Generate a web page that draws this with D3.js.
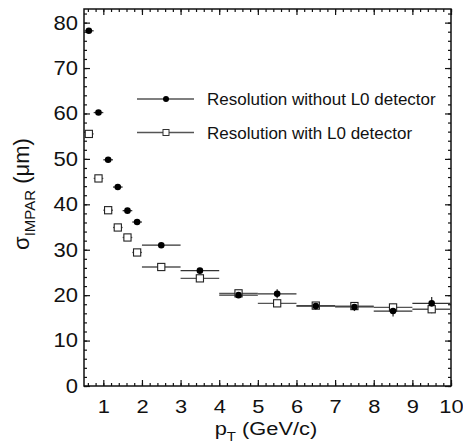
<!DOCTYPE html>
<html>
<head>
<meta charset="utf-8">
<script src="https://cdn.jsdelivr.net/npm/d3@7"></script>
<style>
  body { margin: 0; background: #fff; }
  svg { display: block; font-family: "Liberation Sans", Arial, sans-serif; }
</style>
</head>
<body>
<svg id="chart" width="463" height="445"></svg>
<script>
// bin centres and half widths (GeV/c)
const ptCenters = [0.625, 0.875, 1.125, 1.375, 1.625, 1.875, 2.5, 3.5, 4.5, 5.5, 6.5, 7.5, 8.5, 9.5];
const ptHalfWidth = [0.125, 0.125, 0.125, 0.125, 0.125, 0.125, 0.5, 0.5, 0.5, 0.5, 0.5, 0.5, 0.5, 0.5];

// impact parameter resolution (um)
const sigmaNoL0 = [78.2, 60.2, 49.8, 43.8, 38.6, 36.1, 31.0, 25.4, 20.0, 20.3, 17.6, 17.4, 16.5, 18.2];
const sigmaNoL0Err = [0.4, 0.4, 0.4, 0.4, 0.4, 0.4, 0.4, 0.5, 0.6, 1.0, 0.8, 0.9, 1.2, 1.4];
const sigmaL0 = [55.5, 45.7, 38.7, 34.9, 32.7, 29.4, 26.2, 23.7, 20.4, 18.2, 17.7, 17.6, 17.3, 16.9];
const sigmaL0Err = [0.3, 0.3, 0.3, 0.3, 0.3, 0.3, 0.3, 0.4, 0.5, 0.6, 0.6, 0.6, 0.8, 0.9];

const xTicks = [1, 2, 3, 4, 5, 6, 7, 8, 9, 10];
const yTicks = [0, 10, 20, 30, 40, 50, 60, 70, 80];
const legendLabels = ['Resolution without L0 detector', 'Resolution with L0 detector'];

const plot = { left: 84, right: 451, top: 9, bottom: 386 };
const svg = d3.select('#chart');

const x = d3.scaleLinear().domain([0.5, 10]).range([plot.left, plot.right]);
const y = d3.scaleLinear().domain([0, 83]).range([plot.bottom, plot.top]);

const xMinor = d3.range(0.6, 10.01, 0.2).map(v => +v.toFixed(1));
const yMinor = d3.range(0, 83, 2);

// frame
svg.append('rect')
  .attr('x', plot.left).attr('y', plot.top)
  .attr('width', plot.right - plot.left).attr('height', plot.bottom - plot.top)
  .attr('fill', 'none').attr('stroke', '#111').attr('stroke-width', 1.5);

function styleAxis(g) {
  g.select('.domain').remove();
  g.selectAll('.tick line').attr('stroke', '#111').attr('stroke-width', 1.2);
}

// stretch tick labels a bit horizontally, like the original figure
function stretchLabels(g, sx) {
  g.selectAll('.tick text').each(function() {
    const t = d3.select(this);
    const tx = +t.attr('x') || 0, ty = +t.attr('y') || 0;
    t.attr('x', 0).attr('y', 0)
      .attr('transform', `translate(${tx},${ty}) scale(${sx},1)`);
  });
}

// bottom axis
const gx = svg.append('g').attr('transform', `translate(0,${plot.bottom})`)
  .call(d3.axisBottom(x).tickValues(xTicks).tickSize(-6).tickPadding(14).tickFormat(d3.format('d')));
gx.selectAll('.tick text').attr('font-size', 19).attr('fill', '#111');
stretchLabels(gx, 1.15);
styleAxis(gx);
svg.append('g').attr('transform', `translate(0,${plot.bottom})`)
  .call(d3.axisBottom(x).tickValues(xMinor).tickSize(-3).tickFormat(''))
  .call(styleAxis);

// top axis (mirror)
svg.append('g').attr('transform', `translate(0,${plot.top})`)
  .call(d3.axisTop(x).tickValues(xTicks).tickSize(-6).tickFormat(''))
  .call(styleAxis);
svg.append('g').attr('transform', `translate(0,${plot.top})`)
  .call(d3.axisTop(x).tickValues(xMinor).tickSize(-3).tickFormat(''))
  .call(styleAxis);

// left axis
const gy = svg.append('g').attr('transform', `translate(${plot.left},0)`)
  .call(d3.axisLeft(y).tickValues(yTicks).tickSize(-6).tickPadding(6));
gy.selectAll('.tick text').attr('font-size', 20).attr('fill', '#111');
stretchLabels(gy, 1.1);
styleAxis(gy);
svg.append('g').attr('transform', `translate(${plot.left},0)`)
  .call(d3.axisLeft(y).tickValues(yMinor).tickSize(-3).tickFormat(''))
  .call(styleAxis);

// right axis (mirror)
svg.append('g').attr('transform', `translate(${plot.right},0)`)
  .call(d3.axisRight(y).tickValues(yTicks).tickSize(-6).tickFormat(''))
  .call(styleAxis);
svg.append('g').attr('transform', `translate(${plot.right},0)`)
  .call(d3.axisRight(y).tickValues(yMinor).tickSize(-3).tickFormat(''))
  .call(styleAxis);

// axis titles
const xTitle = svg.append('text')
  .attr('transform', `translate(266,435) scale(1.15,1)`)
  .attr('text-anchor', 'middle').attr('font-size', 19).attr('fill', '#111');
xTitle.append('tspan').text('p');
xTitle.append('tspan').attr('font-size', 13).attr('dy', 6).text('T');
xTitle.append('tspan').attr('dy', -6).text(' (GeV/c)');

const yTitle = svg.append('text')
  .attr('transform', 'translate(29,194) rotate(-90)')
  .attr('text-anchor', 'middle').attr('font-size', 22).attr('fill', '#111');
yTitle.append('tspan').text('σ');
yTitle.append('tspan').attr('font-size', 15).attr('dy', 6).text('IMPAR');
yTitle.append('tspan').attr('dy', -6).text(' (μm)');

// data
const noL0 = ptCenters.map((p, i) => ({ x: p, dx: ptHalfWidth[i], y: sigmaNoL0[i], dy: sigmaNoL0Err[i] }));
const withL0 = ptCenters.map((p, i) => ({ x: p, dx: ptHalfWidth[i], y: sigmaL0[i], dy: sigmaL0Err[i] }));

function errorBars(data, color) {
  const g = svg.append('g').attr('stroke', color).attr('stroke-width', 1.3);
  g.selectAll('.hx').data(data).enter().append('line')
    .attr('x1', d => x(d.x - d.dx)).attr('x2', d => x(d.x + d.dx))
    .attr('y1', d => y(d.y)).attr('y2', d => y(d.y));
  g.selectAll('.vy').data(data).enter().append('line')
    .attr('x1', d => x(d.x)).attr('x2', d => x(d.x))
    .attr('y1', d => y(d.y - d.dy)).attr('y2', d => y(d.y + d.dy));
}

errorBars(withL0, '#555');
errorBars(noL0, '#333');

svg.append('g').selectAll('rect').data(withL0).enter().append('rect')
  .attr('x', d => x(d.x) - 3.6).attr('y', d => y(d.y) - 3.6)
  .attr('width', 7.2).attr('height', 7.2)
  .attr('fill', '#fff').attr('stroke', '#222').attr('stroke-width', 1.1);

svg.append('g').selectAll('circle').data(noL0).enter().append('circle')
  .attr('cx', d => x(d.x)).attr('cy', d => y(d.y)).attr('r', 3.3)
  .attr('fill', '#000');

// legend
const legend = svg.append('g');
legendLabels.forEach((label, i) => {
  const ly = 99 + i * 33.5;
  legend.append('line').attr('x1', 137).attr('x2', 194).attr('y1', ly).attr('y2', ly)
    .attr('stroke', '#555').attr('stroke-width', 1.3);
  if (i === 0) {
    legend.append('circle').attr('cx', 166).attr('cy', ly).attr('r', 3).attr('fill', '#000');
  } else {
    legend.append('rect').attr('x', 163).attr('y', ly - 3).attr('width', 6).attr('height', 6)
      .attr('fill', '#fff').attr('stroke', '#333').attr('stroke-width', 1);
  }
  legend.append('text').attr('x', 207).attr('y', ly + 6)
    .attr('font-size', 17).attr('fill', '#111').text(label);
});
</script>
</body>
</html>
